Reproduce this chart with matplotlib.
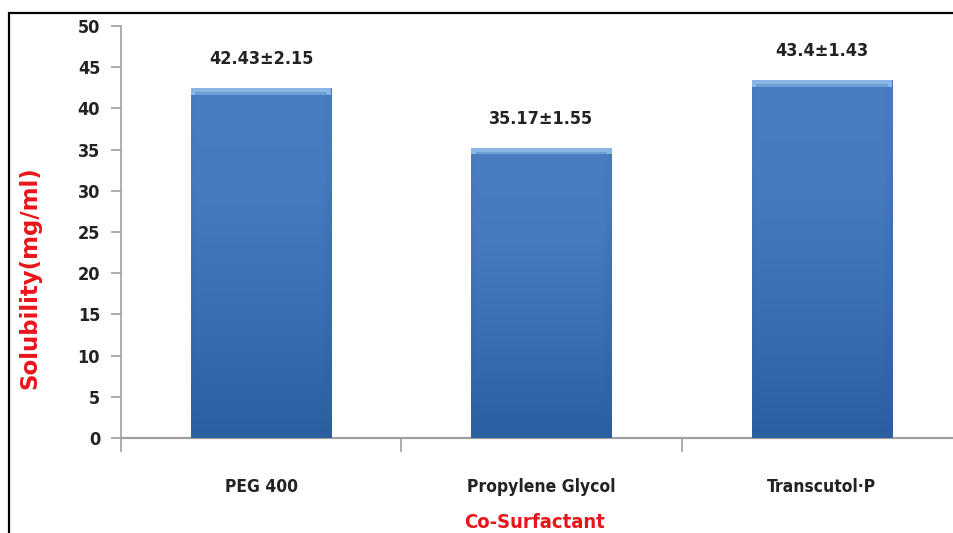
import numpy as np
import matplotlib.pyplot as plt
from matplotlib.patches import Rectangle
from matplotlib.colors import LinearSegmentedColormap

# données de solubilité par co-tensioactif
categories = ["PEG 400", "Propylene Glycol", "Transcutol·P"]
solubilite = [42.43, 35.17, 43.4]
ecart_type = [2.15, 1.55, 1.43]
etiquettes = ["42.43±2.15", "35.17±1.55", "43.4±1.43"]

plt.rcParams["font.family"] = ["DejaVu Sans"]
plt.rcParams["font.stretch"] = "condensed"

fig = plt.figure(figsize=(9.54, 5.33), dpi=100)
ax = fig.add_axes([0.1268, 0.178, 0.8816, 0.7732])

x = np.arange(len(categories))
barres = ax.bar(x, solubilite, width=0.5, color="#3d72b6", zorder=2)

# dégradé vertical + bords plus sombres pour faire un effet "relief"
cmap = LinearSegmentedColormap.from_list("bleu", ["#2c5fa0", "#3a6eb2", "#4679bd", "#4a7ec1"])
for b in barres:
    x0, larg, h = b.get_x(), b.get_width(), b.get_height()
    yy = np.linspace(0, 1, 200)[:, None]
    xx = np.linspace(0, 1, 60)[None, :]
    bord = 1 - 0.25 * np.clip((xx - 0.93) / 0.07, 0, 1) - 0.12 * np.clip((0.04 - xx) / 0.04, 0, 1)
    img = yy * bord
    im = ax.imshow(img, cmap=cmap, vmin=0, vmax=1, extent=(x0, x0 + larg, 0, h),
                   origin="lower", aspect="auto", zorder=3)
    im.set_clip_path(b)
    # liseré clair sur le haut de la barre
    ax.add_patch(Rectangle((x0, h - 0.75), larg, 0.75, color="#8ab6e6", zorder=4, lw=0))
    ax.add_patch(Rectangle((x0 + 0.015, h - 0.75), larg - 0.03, 0.3, color="#6d9fd8", zorder=4, lw=0))

for xi, v, txt in zip(x, solubilite, etiquettes):
    ax.text(xi, v + 2.5, txt, ha="center", va="bottom", fontsize=13, fontweight="bold", color="#222222")

ax.set_xlim(-0.5, 2.5)
ax.set_ylim(0, 50)
ax.set_yticks(np.arange(0, 51, 5))
ax.set_xticks(x)
ax.set_xticklabels(categories, fontsize=12.5, fontweight="bold", color="#222222")
ax.set_xticks([-0.5, 0.5, 1.5, 2.5], minor=True)
ax.tick_params(axis="x", which="major", length=0, pad=29)
ax.tick_params(axis="x", which="minor", length=10, width=1.2, color="#a0a0a0", direction="out")
ax.tick_params(axis="y", length=7, width=1.2, color="#a0a0a0", labelsize=13, pad=8)
for lab in ax.get_yticklabels():
    lab.set_fontweight("bold")
    lab.set_color("#222222")

for cote in ["top", "right"]:
    ax.spines[cote].set_visible(False)
ax.spines["left"].set_color("#a0a0a0")
ax.spines["bottom"].set_color("#a0a0a0")
ax.spines["left"].set_linewidth(1.2)
ax.spines["bottom"].set_linewidth(1.6)

fig.text(30 / 954, 1 - 278 / 533, "Solubility(mg/ml)", rotation=90, ha="center", va="center",
         color="#e8161b", fontsize=16.5, fontweight="bold", fontstretch="normal")
fig.text(535 / 954, 1 - 522 / 533, "Co-Surfactant", ha="center", va="center",
         color="#e8161b", fontsize=14.5, fontweight="bold")

# cadre noir autour du graphique
fig.patches.append(Rectangle((9 / 954, -0.1), 1.2, 1.1 - 13 / 533, transform=fig.transFigure,
                             fill=False, edgecolor="black", lw=1.6, zorder=10))

fig.savefig("out.png", dpi=100)
